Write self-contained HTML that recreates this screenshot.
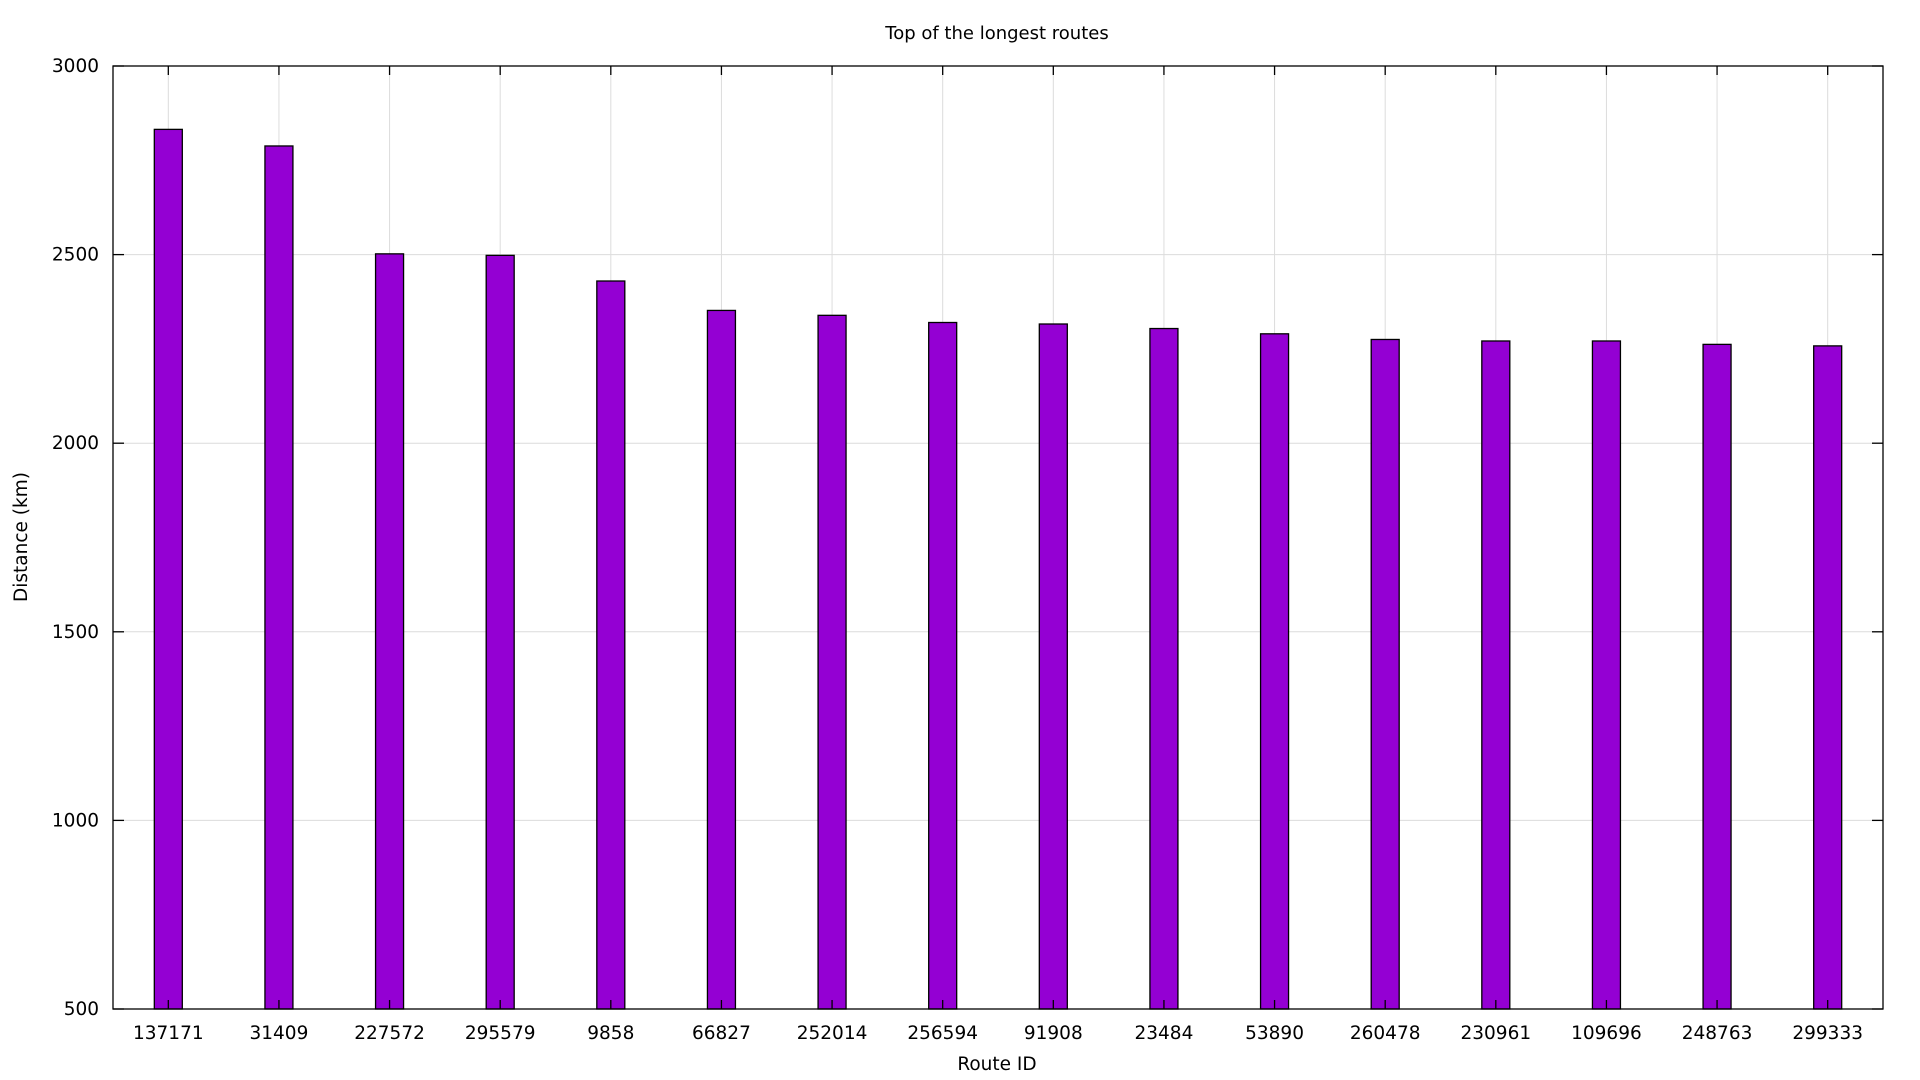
<!DOCTYPE html>
<html><head><meta charset="utf-8"><style>
html,body{margin:0;padding:0;background:#fff;}
svg{display:block;font-family:"DejaVu Sans","Liberation Sans",sans-serif;}
</style></head><body>
<svg id="chart" width="1920" height="1080" xmlns="http://www.w3.org/2000/svg">
<rect width="1920" height="1080" fill="#fff"/>
<text x="997" y="39" font-size="18" text-anchor="middle">Top of the longest routes</text>
<g id="grid"></g>
<g id="bars"></g>
<g id="ticks"></g>
<rect x="113" y="66" width="1770" height="943" fill="none" stroke="#000" stroke-width="1.3"/>
<text x="997" y="1070" font-size="18.5" text-anchor="middle">Route ID</text>
<text x="0" y="0" font-size="18.5" text-anchor="middle" transform="translate(27,537) rotate(-90)">Distance (km)</text>
</svg>
<script>
const categories = ["137171","31409","227572","295579","9858","66827","252014","256594","91908","23484","53890","260478","230961","109696","248763","299333"];
const distances = [2832,2788,2502,2498,2430,2352,2339,2320,2316,2304,2290,2275,2271,2271,2262,2258];
const yTicks = [500,1000,1500,2000,2500,3000];

const L=113,R=1883,T=66,B=1009,yMin=500,yMax=3000;
const NS="http://www.w3.org/2000/svg";
const step=(R-L)/categories.length;
function xPos(i){return L+step*(i+0.5);}
function yPos(v){return B-(v-yMin)/(yMax-yMin)*(B-T);}
function mk(tag,attrs,parent){const e=document.createElementNS(NS,tag);for(const k in attrs)e.setAttribute(k,attrs[k]);parent.appendChild(e);return e;}
const grid=document.getElementById('grid'),bars=document.getElementById('bars'),ticks=document.getElementById('ticks');

yTicks.forEach(v=>{
  const y=yPos(v);
  if(v>yMin&&v<yMax){
    const g=mk('line',{x1:L,x2:R,y1:y,y2:y,stroke:'#dcdcdc','stroke-width':1},grid);
    
    
  }
  const t1=mk('line',{x1:L,x2:L+11,y1:y,y2:y,stroke:'#000','stroke-width':1.3},ticks);
  
  
  const t2=mk('line',{x1:R-11,x2:R,y1:y,y2:y,stroke:'#000','stroke-width':1.3},ticks);
  
  
  const lb=mk('text',{x:99,y:y+6,'font-size':18.5,'text-anchor':'end'},ticks);
  lb.textContent=v;
  
  
});

categories.forEach((c,i)=>{
  const x=xPos(i);
  const g=mk('line',{x1:x,x2:x,y1:T,y2:B,stroke:'#dcdcdc','stroke-width':1},grid);
  
  
  const t1=mk('line',{x1:x,x2:x,y1:T,y2:T+9,stroke:'#000','stroke-width':1.3},ticks);
  
  
  const t2=mk('line',{x1:x,x2:x,y1:B-9,y2:B,stroke:'#000','stroke-width':1.3},ticks);
  
  
  const y=yPos(distances[i]);
  const b=mk('rect',{x:x-14,y:y,width:28,height:B-y,fill:'#9400d3',stroke:'#000','stroke-width':1.3},bars);
  
  
  const lb=mk('text',{x:x,y:1039,'font-size':18.5,'text-anchor':'middle'},ticks);
  lb.textContent=c;
  
  
});
</script>
</body></html>
